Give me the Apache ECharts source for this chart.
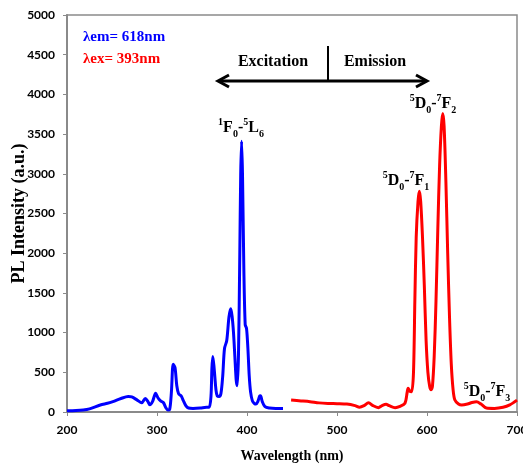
<!DOCTYPE html>
<html lang="en">
<head>
	<meta charset="UTF-8" />
	<title>PL spectra</title>
	<script src="https://cdn.jsdelivr.net/npm/echarts@6.0.0/dist/echarts.min.js"></script>
	<style>
		html, body { margin: 0; padding: 0; background: #fff; }
		#main { width: 523px; height: 464px; }
	</style>
</head>
<body>
<div id="main"></div>
<script>
	// excitation spectrum (blue, monitored at 618 nm)
	var exWave = [200, 210, 218, 225, 237, 245, 251, 260, 268, 272, 278, 283, 287, 290, 292, 295, 298.5, 301, 304, 307, 310, 312, 314, 316, 318, 320, 322, 324, 327, 329, 332, 335, 340, 348, 355, 358, 360, 361, 362, 363.5, 365.5, 367, 369, 371, 373, 375, 377.5, 380, 382, 383.5, 385, 386.5, 388, 389, 390.5, 392, 393, 394, 395, 396.5, 398, 399.5, 401, 402.5, 404, 406, 408, 410, 412, 414, 415, 417, 420, 425, 432, 440];
	var exInt = [15, 18, 25, 40, 88, 110, 130, 170, 195, 190, 150, 115, 170, 130, 90, 130, 235, 180, 140, 120, 50, 25, 30, 250, 600, 560, 330, 230, 200, 150, 80, 50, 45, 50, 60, 60, 200, 550, 700, 550, 280, 200, 195, 230, 450, 800, 900, 1200, 1300, 1200, 1000, 700, 400, 330, 700, 2000, 3000, 3410, 3000, 1800, 1100, 1050, 800, 450, 250, 140, 110, 100, 130, 200, 205, 130, 67, 50, 45, 45];

	// emission spectrum (red, excited at 393 nm)
	var emWave = [449, 460, 470, 480, 490, 500, 511, 520, 525, 530, 535, 540, 546, 550, 554.5, 558, 564.5, 570, 575.5, 578, 579, 581, 583, 585, 586.5, 588, 590, 591.5, 593, 595, 597, 599, 601, 603, 604.5, 606, 608, 610, 612, 614, 616, 617.5, 619, 621, 623, 625, 627, 629, 631, 635, 638.5, 645, 650, 655, 660, 666, 675, 684.5, 692, 700];
	var emInt = [150, 140, 130, 115, 108, 105, 100, 80, 60, 80, 118, 80, 55, 80, 97, 80, 55, 70, 110, 250, 300, 260, 256, 500, 1400, 2200, 2650, 2780, 2650, 2200, 1600, 900, 500, 320, 280, 320, 700, 1400, 2300, 3100, 3600, 3760, 3600, 2900, 2000, 1200, 600, 280, 150, 100, 88, 100, 120, 130, 100, 50, 45, 59, 90, 150];

	var xTicks = [200, 300, 400, 500, 600, 700];
	var yTicks = [0, 500, 1000, 1500, 2000, 2500, 3000, 3500, 4000, 4500, 5000];

	function pairs(xs, ys) {
		var out = [];
		for (var i = 0; i < xs.length; i++) out.push([xs[i], ys[i]]);
		return out;
	}

	var serif = '"Liberation Serif", "Times New Roman", serif';
	var sans = 'Lato, "Open Sans", sans-serif';

	// rich styles for the term symbols (superscripts / subscripts)
	var termRich = {
		b: { fontFamily: serif, fontWeight: 'bold', fontSize: 16, lineHeight: 22, fill: '#000' },
		sup: { fontFamily: serif, fontWeight: 'bold', fontSize: 10, lineHeight: 12, verticalAlign: 'top', fill: '#000' },
		sub: { fontFamily: serif, fontWeight: 'bold', fontSize: 10, lineHeight: 14, verticalAlign: 'bottom', fill: '#000' }
	};

	function term(x, y, txt) {
		return {
			type: 'text', x: x, y: y, z: 10,
			style: { text: txt, rich: termRich, align: 'center', verticalAlign: 'middle' }
		};
	}

	var mychart = echarts.init(document.getElementById('main'));

	mychart.setOption({
		animation: false,
		backgroundColor: '#fff',
		grid: {
			left: 67, right: 6, top: 15, bottom: 52,
			outerBoundsMode: 'none',
			show: true, borderColor: '#8a8a8a', borderWidth: 1.5
		},
		xAxis: {
			type: 'value', min: 200, max: 700, interval: 100,
			name: 'Wavelength (nm)', nameLocation: 'middle', nameGap: 37, nameMoveOverlap: false,
			nameTextStyle: { fontFamily: serif, fontWeight: 'bold', fontSize: 14, color: '#000' },
			axisLine: { lineStyle: { color: '#8a8a8a', width: 2 } },
			axisTick: { show: true, length: 4, lineStyle: { color: '#8a8a8a' } },
			axisLabel: {
				margin: 12, fontFamily: sans, fontWeight: 'bold', fontSize: 12, color: '#000',
				formatter: function (v) { return xTicks.indexOf(v) >= 0 ? String(v) : ''; }
			},
			splitLine: { show: false }
		},
		yAxis: {
			type: 'value', min: 0, max: 5000, interval: 500,
			name: 'PL Intensity (a.u.)', nameLocation: 'middle', nameGap: 39, nameMoveOverlap: false,
			nameTextStyle: { fontFamily: serif, fontWeight: 'bold', fontSize: 18, color: '#000' },
			axisLine: { show: true, lineStyle: { color: '#8a8a8a', width: 2 } },
			axisTick: { show: true, length: 4, lineStyle: { color: '#8a8a8a' } },
			axisLabel: {
				margin: 12, fontFamily: sans, fontWeight: 'bold', fontSize: 12, color: '#000',
				formatter: function (v) { return yTicks.indexOf(v) >= 0 ? String(v) : ''; }
			},
			splitLine: { show: false }
		},
		series: [
			{
				name: 'excitation', type: 'line', data: pairs(exWave, exInt),
				showSymbol: false, smooth: 0.3,
				lineStyle: { color: '#0000ff', width: 3 }
			},
			{
				name: 'emission', type: 'line', data: pairs(emWave, emInt),
				showSymbol: false, smooth: 0.3,
				lineStyle: { color: '#ff0000', width: 3 }
			}
		],
		graphic: [
			{ type: 'text', x: 83, y: 37, style: { text: 'λem= 618nm', fill: '#0000ff', font: 'bold 15px ' + serif, verticalAlign: 'middle' } },
			{ type: 'text', x: 83, y: 59, style: { text: 'λex= 393nm', fill: '#ff0000', font: 'bold 15px ' + serif, verticalAlign: 'middle' } },
			{ type: 'text', x: 273, y: 62, style: { text: 'Excitation', fill: '#000', font: 'bold 16px ' + serif, align: 'center', verticalAlign: 'middle' } },
			{ type: 'text', x: 375, y: 62, style: { text: 'Emission', fill: '#000', font: 'bold 16px ' + serif, align: 'center', verticalAlign: 'middle' } },
			// double arrow + divider
			{ type: 'line', shape: { x1: 219, y1: 81, x2: 426, y2: 81 }, style: { stroke: '#000', lineWidth: 3 } },
			{ type: 'polyline', shape: { points: [[229, 75], [218, 81], [229, 87]] }, style: { stroke: '#000', lineWidth: 3, fill: null } },
			{ type: 'polyline', shape: { points: [[416, 75], [427, 81], [416, 87]] }, style: { stroke: '#000', lineWidth: 3, fill: null } },
			{ type: 'line', shape: { x1: 328, y1: 46, x2: 328, y2: 81 }, style: { stroke: '#000', lineWidth: 2 } },
			// transitions
			term(241, 128, '{sup|1}{b|F}{sub|0}{b|-}{sup|5}{b|L}{sub|6}'),
			term(433, 104, '{sup|5}{b|D}{sub|0}{b|-}{sup|7}{b|F}{sub|2}'),
			term(406, 181, '{sup|5}{b|D}{sub|0}{b|-}{sup|7}{b|F}{sub|1}'),
			term(487, 392, '{sup|5}{b|D}{sub|0}{b|-}{sup|7}{b|F}{sub|3}')
		]
	});
</script>
</body>
</html>
